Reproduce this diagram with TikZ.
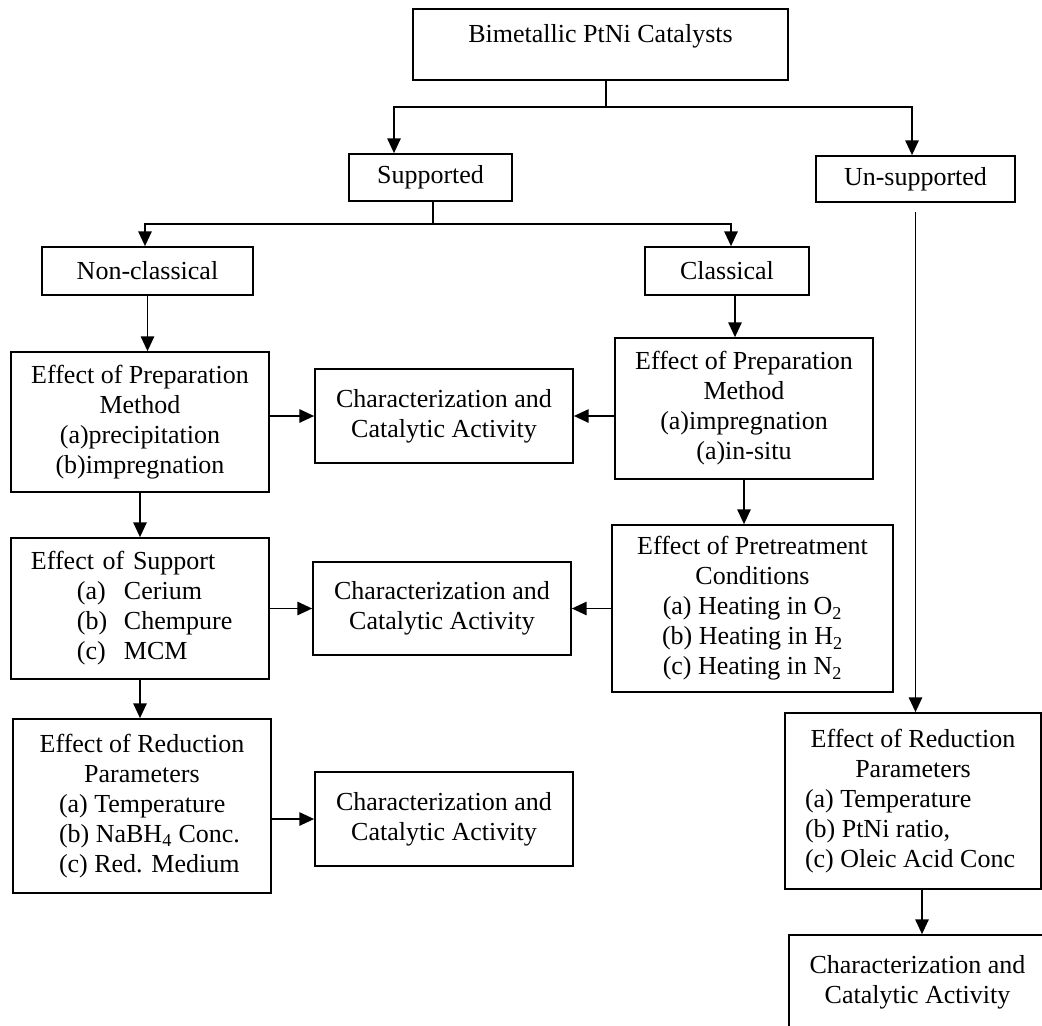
\documentclass[tikz,border=0pt]{standalone}
\usepackage{fontspec}
\setmainfont{Liberation Serif}
\usetikzlibrary{arrows.meta}
\newcommand{\lrow}[2]{\makebox[#1][l]{#2}}

\begin{document}
\begin{tikzpicture}[
  x=0.75pt,y=-0.75pt,
  font=\fontsize{19.5}{22.5}\selectfont,>={Triangle[length=11pt,width=10pt]},
  box/.style={draw,line width=1.3pt,align=center,minimum width=193.5pt},
  link/.style={line width=1.1pt}
]
\clip (0,0) rectangle (1042,1025);
\node[box,minimum width=281.25pt,minimum height=53.25pt,text depth=17pt] (top) at (600.5,44.5) {Bimetallic PtNi Catalysts};
\node[box,minimum width=122.25pt,minimum height=35.25pt] (sup) at (430.5,177.5) {Supported};
\node[box,minimum width=149.25pt,minimum height=34.5pt] (unsup) at (915.5,179) {Un-supported};
\node[box,minimum width=158.25pt,minimum height=36pt] (noncl) at (147.5,271) {Non-classical};
\node[box,minimum width=123pt,minimum height=36pt] (cl) at (727,271) {Classical};
\node[box,minimum height=105pt] (prepnc) at (140,422) {Effect of Preparation\\Method\\(a)precipitation\\(b)impregnation};
\node[box,minimum height=70.5pt] (charA) at (444,416) {Characterization and\\Catalytic Activity};
\node[box,minimum height=105.75pt] (prepc) at (744,408.5) {Effect of Preparation\\Method\\(a)impregnation\\(a)in-situ};
\node[box,minimum height=105.75pt,text width=163.5pt,align=left] (supp) at (140,608.5) {Effect of Support\\
  \hspace*{34.5pt}\lrow{35.25pt}{(a)}Cerium\\
  \hspace*{34.5pt}\lrow{35.25pt}{(b)}Chempure\\
  \hspace*{34.5pt}\lrow{35.25pt}{(c)}MCM};
\node[box,minimum height=69.75pt] (charB) at (442,608.5) {Characterization and\\Catalytic Activity};
\node[box,minimum width=210.75pt,minimum height=125.25pt] (pretr) at (752.5,608.5) {Effect of Pretreatment\\Conditions\\(a) Heating in O\textsubscript{2}\\(b) Heating in H\textsubscript{2}\\(c) Heating in N\textsubscript{2}};
\node[box,minimum height=130.5pt] (rednc) at (142,806) {Effect of Reduction\\Parameters\\
  \lrow{124.5pt}{(a) Temperature}\\
  \lrow{124.5pt}{(b) NaBH\textsubscript{4} Conc.}\\
  \lrow{124.5pt}{(c) Red. Medium}};
\node[box,minimum height=70.5pt] (charC) at (444,819) {Characterization and\\Catalytic Activity};
\node[box,minimum width=192pt,minimum height=132pt] (redun) at (913,801) {Effect of Reduction\\Parameters\\
  \lrow{162pt}{(a) Temperature}\\
  \lrow{162pt}{(b) PtNi ratio,}\\
  \lrow{162pt}{(c) Oleic Acid Conc}};
\node[box,minimum width=192.75pt,minimum height=71.25pt] (charD) at (917.5,982.5) {Characterization and\\Catalytic Activity};

% branching points
\coordinate (j0) at (606,107);
\coordinate (j0l) at (394,107);
\coordinate (j0r) at (912,107);
\coordinate (j1) at (433,224);
\coordinate (j1l) at (145,224);
\coordinate (j1r) at (731,224);
\coordinate (c1) at ([xshift=6pt]cl.south);
\coordinate (r1) at ([xshift=6.75pt]redun.south);

\draw[link] (top.south -| j0) -- (j0);
\draw[link,->] (j0) -- (j0l) -- (j0l |- sup.north);
\draw[link,->] (j0) -- (j0r) -- (j0r |- unsup.north);
\draw[link] (sup.south -| j1) -- (j1);
\draw[link,->] (j1) -- (j1l) -- (j1l |- noncl.north);
\draw[link,->] (j1) -- (j1r) -- (j1r |- cl.north);
\draw[link,->] (noncl) -- (noncl |- prepnc.north);
\draw[link,->] (c1) -- (c1 |- prepc.north);
\draw[link,->] (charA.west -| prepnc.east) -- (charA.west);
\draw[link,->] (charA.east -| prepc.west) -- (charA.east);
\draw[link,->] (prepnc) -- (prepnc |- supp.north);
\draw[link,->] (prepc) -- (prepc |- pretr.north);
\draw[link,->] (charB.west -| supp.east) -- (charB.west);
\draw[link,->] (charB.east -| pretr.west) -- (charB.east);
\draw[link,->] (supp) -- (supp |- rednc.north);
\draw[link,->] (charC.west -| rednc.east) -- (charC.west);
\draw[link,->,shorten <=6.75pt] (unsup) -- (unsup |- redun.north);
\draw[link,->] (r1) -- (r1 |- charD.north);
\end{tikzpicture}
\end{document}
